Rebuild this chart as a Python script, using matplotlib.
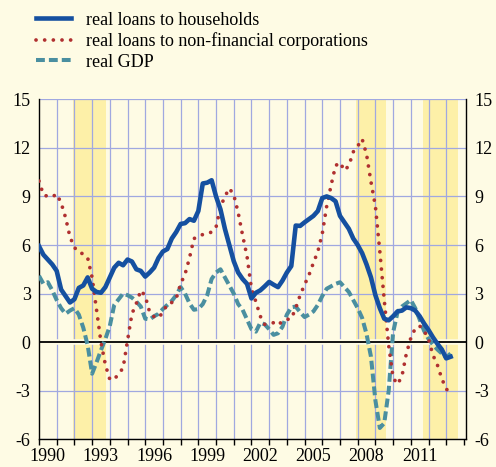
import matplotlib
matplotlib.use('Agg')
import matplotlib.pyplot as plt
import numpy as np

plt.rcParams['font.family'] = ['Liberation Serif', 'DejaVu Serif']

# quarterly observations, 1990Q1 .. 2013Q2
start_year = 1990
households = [
    5.93, 5.4, 5.1, 4.8, 4.4, 3.25, 2.85, 2.45,
    2.65, 3.35, 3.5, 4.0, 3.3, 3.1, 3.05, 3.4,
    4.0, 4.6, 4.9, 4.75, 5.1, 4.98, 4.5, 4.4,
    4.05, 4.3, 4.6, 5.2, 5.6, 5.75, 6.4, 6.8,
    7.3, 7.35, 7.6, 7.5, 8.1, 9.8, 9.85, 10.0,
    9.0, 8.2, 7.0, 6.0, 5.0, 4.3, 3.9, 3.6,
    2.7, 3.05, 3.2, 3.45, 3.72, 3.55, 3.4, 3.8,
    4.3, 4.7, 7.2, 7.18, 7.4, 7.6, 7.8, 8.1,
    8.9, 9.0, 8.9, 8.7, 7.8, 7.4, 7.0, 6.4,
    6.0, 5.5, 4.8, 4.0, 2.9, 2.1, 1.45, 1.35,
    1.6, 1.9, 1.95, 2.15, 2.1, 1.95, 1.6, 1.15,
    0.75, 0.3, -0.1, -0.45, -1.0, -0.9,
]
corporations = [
    9.95, 9.1, 9.0, 8.97, 9.15, 8.6, 7.7, 6.5,
    5.85, 5.55, 5.45, 5.2, 4.0, 2.0, 0.0, -1.4,
    -2.3, -2.3, -1.95, -1.6, 0.1, 1.75, 2.4, 3.2,
    2.85, 1.85, 1.57, 1.5, 1.85, 2.35, 2.45, 2.7,
    3.6, 4.2, 5.2, 6.4, 6.5, 6.65, 6.7, 6.8,
    7.1, 8.35, 9.0, 9.5, 9.1, 8.0, 6.6, 5.3,
    3.3, 2.5, 1.6, 1.1, 1.15, 1.2, 1.05, 1.3,
    1.4, 1.45, 2.1, 2.9, 3.55, 4.15, 4.9, 5.6,
    6.7, 8.4, 9.7, 10.9, 11.1, 10.6, 10.9, 11.75,
    12.1, 12.55, 11.6, 9.9, 8.4, 5.6, 2.6, -0.2,
    -2.2, -2.6, -2.1, -0.7, 0.25, 0.85, 1.0, 0.7,
    0.2, -0.8, -1.4, -2.25, -2.9, -3.1,
]
gdp = [
    4.1, 3.6, 3.7, 3.2, 2.6, 2.1, 1.75, 1.95,
    2.1, 1.7, 0.9, -0.2, -1.95, -1.25, -0.5, 0.2,
    1.0, 2.3, 2.65, 3.0, 2.9, 2.75, 2.5, 2.2,
    1.45, 1.4, 1.6, 1.75, 2.05, 2.3, 2.55, 2.9,
    3.4, 3.0, 2.4, 2.0, 2.05, 2.35, 2.9, 3.9,
    4.3, 4.5, 4.0, 3.5, 3.0, 2.35, 2.0, 1.4,
    0.8, 0.65, 1.2, 1.1, 0.8, 0.45, 0.55, 0.95,
    1.7, 2.15, 2.2, 1.85, 1.55, 1.7, 1.9, 2.3,
    2.85, 3.3, 3.45, 3.6, 3.7, 3.4, 3.1, 2.6,
    2.1, 1.5, 0.5, -0.9, -3.6, -5.3, -5.0, -3.0,
    0.6, 1.85, 2.2, 2.4, 2.6, 2.1, 1.4, 0.7,
    0.2, -0.15, -0.45, -0.7, -0.95, -0.7,
]
recessions = [(1991.92, 1993.77), (2007.92, 2009.58), (2011.68, 2013.64)]
year_labels = [1990, 1993, 1996, 1999, 2002, 2005, 2008, 2011]
y_ticks = [-6, -3, 0, 3, 6, 9, 12, 15]

bg = '#fefbe4'
band = '#fdf0a8'
grid = '#a0a8e0'

t = start_year + 0.25 * np.arange(len(households))

fig = plt.figure(figsize=(4.96, 4.67), dpi=100, facecolor=bg)
ax = fig.add_axes([0.0786, 0.0593, 0.8603, 0.7281], facecolor=bg)

for a, b in recessions:
    ax.axvspan(a, b, color=band, lw=0, zorder=0)

ax.set_xlim(1990, 2014.1)
ax.set_ylim(-6, 15)

for yr in range(1991, 2014):
    ax.axvline(yr, color=grid, lw=0.9, zorder=1)
for v in y_ticks:
    if v != 0:
        ax.axhline(v, color=grid, lw=0.9, zorder=1)
ax.axhline(0, color=bg, lw=4, zorder=1.5)
ax.axhline(0, color='black', lw=1.3, zorder=1.6)

ax.plot(t, gdp, color='#4a8fa0', lw=2.9, dashes=(2.2, 1.0), zorder=3,
        label='real GDP')
ax.plot(t, corporations, color='#b03030', lw=2.7, linestyle=(0, (0.01, 2.3)),
        dash_capstyle='round', zorder=4,
        label='real loans to non-financial corporations')
ax.plot(t, households, color='#1550a0', lw=3.3, zorder=5,
        solid_joinstyle='round', label='real loans to households')

ax.spines['top'].set_visible(False)
for s in ['left', 'right', 'bottom']:
    ax.spines[s].set_color('black')
    ax.spines[s].set_linewidth(1.0)

ax.set_xticks(range(1990, 2015))
ax.set_xticks([y + 0.5 for y in year_labels], minor=True)
ax.set_xticklabels([])
ax.set_xticklabels([str(y) for y in year_labels], minor=True)
ax.tick_params(axis='x', which='major', length=4, width=1.0, direction='out')
ax.tick_params(axis='x', which='minor', length=0, pad=6, labelsize=13)

ax.set_yticks(y_ticks)
ax.set_yticklabels([str(v) for v in y_ticks])
ax.tick_params(axis='y', length=0, pad=6, labelsize=13,
               labelleft=True, labelright=True)

handles, labels = ax.get_legend_handles_labels()
order = [2, 1, 0]
fig.legend([handles[i] for i in order], [labels[i] for i in order],
           loc='upper left', bbox_to_anchor=(0.072, 0.975), frameon=False,
           fontsize=13, handlelength=1.95, handletextpad=0.85,
           labelspacing=0.2, borderpad=0, borderaxespad=0)

fig.savefig('out.png', dpi=100, facecolor=bg)
